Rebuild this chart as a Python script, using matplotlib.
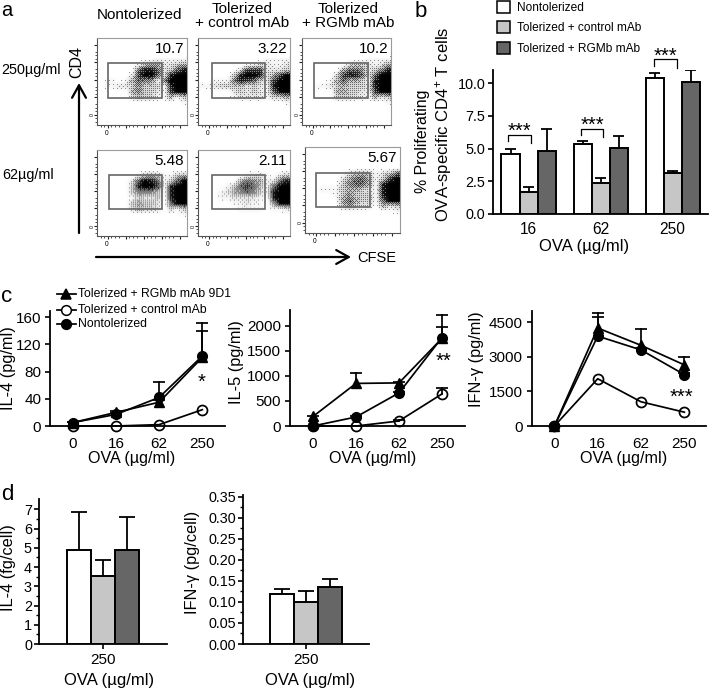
import numpy as np
import matplotlib
matplotlib.use("Agg")
import matplotlib.pyplot as plt
from matplotlib.patches import Rectangle

plt.rcParams['font.family'] = ['Liberation Sans', 'DejaVu Sans']
plt.rcParams['mathtext.fontset'] = 'custom'
plt.rcParams['mathtext.rm'] = 'Liberation Sans'
plt.rcParams['mathtext.default'] = 'regular'

W, H = 710, 689
WHITE, LIGHT, DARK = '#ffffff', '#c6c6c6', '#666666'

# ---- panel a: flow values and density read by eye (0-9), 14 columns x 10 rows
flow_values = [['10.7', '3.22', '10.2'], ['5.48', '2.11', '5.67']]
flow_cols = ['Nontolerized', 'Tolerized\n+ control mAb', 'Tolerized\n+ RGMb mAb']
flow_rows = ['250µg/ml', '62µg/ml']
flow_density = [
    [["00000000011111", "00000013442234", "00000068862368", "00000279962899", "01101465515999",
      "01122353331899", "00000453321799", "00000243311413", "00000000000001", "00000000000000"],
     ["00000000001111", "00000000122112", "00000027772223", "00000389982479", "00111587632799",
      "11233332321899", "00000232321699", "00000122221334", "00000000000001", "00000000000000"],
     ["00000000001111", "00000002332124", "00000046652358", "00000378862699", "00001464431899",
      "00112343332899", "00000443321799", "00000333221423", "00000000000001", "00000000000000"]],
    [["00000000000000", "00000013431134", "00000279861369", "00000389971899", "00000355531899",
      "00000132230899", "00000343320699", "00000243320313", "00000000000001", "00000000000000"],
     ["00000000000000", "00000001221023", "00000046541268", "00001367631699", "00012456531899",
      "00011222210899", "00000112110499", "00000011110112", "00000000000000", "00000000000000"],
     ["00000000000000", "00000023431236", "00000246641379", "00000356641899", "00111344321899",
      "00001353331899", "00000464331699", "00000353220423", "00000000000001", "00000000000000"]],
]
# panel boxes in pixels: left, right, top, bottom
flow_boxes = [[(97, 187, 38, 125), (198, 290, 38, 125), (302, 391, 38, 125)],
              [(97, 187, 150, 236), (198, 290, 150, 236), (305, 400, 147, 233)]]
flow_gates = [[(108, 162, 63, 98), (212, 265, 63, 98), (314, 368, 63, 98)],
              [(109, 162, 175, 209), (212, 265, 175, 209), (316, 370, 173, 207)]]

# ---- panel b
b_groups = ['16', '62', '250']
b_names = ['Nontolerized', 'Tolerized + control mAb', 'Tolerized + RGMb mAb']
b_nontol = [4.6, 5.35, 10.4]
b_control = [1.65, 2.4, 3.1]
b_rgmb = [4.85, 5.05, 10.1]
b_nontol_top = [4.95, 5.6, 10.75]
b_control_top = [2.05, 2.75, 3.3]
b_rgmb_top = [6.5, 5.95, 11.0]

# ---- panel c
doses = ['0', '16', '62', '250']
il4_rgmb = [5, 20, 35, 101]
il4_ctrl = [0, 0, 2, 24]
il4_non = [5, 17, 42, 103]
il4_rgmb_top = [6, 22, 38, 152]
il4_non_top = [6, 19, 65, 140]
il5_rgmb = [190, 850, 860, 1750]
il5_ctrl = [0, 0, 100, 640]
il5_non = [0, 180, 660, 1765]
il5_rgmb_top = [200, 1060, 880, 2215]
il5_ctrl_top = [0, 0, 110, 750]
il5_non_top = [0, 190, 680, 1980]
ifn_rgmb = [0, 4250, 3500, 2650]
ifn_ctrl = [0, 2050, 1050, 600]
ifn_non = [0, 3900, 3300, 2230]
ifn_rgmb_top = [0, 4920, 4210, 3010]
ifn_non_top = [0, 4730, 3400, 2300]

# ---- panel d
d_il4 = [4.88, 3.55, 4.88]
d_il4_top = [6.85, 4.35, 6.6]
d_ifn = [0.118, 0.10, 0.135]
d_ifn_top = [0.13, 0.126, 0.155]

fig = plt.figure(figsize=(W / 100, H / 100), dpi=100)
ov = fig.add_axes([0, 0, 1, 1], zorder=10)
ov.set_xlim(0, W); ov.set_ylim(H, 0); ov.axis('off'); ov.patch.set_alpha(0)


def px_axes(x0, x1, top, bottom):
    return fig.add_axes([x0 / W, 1 - bottom / H, (x1 - x0) / W, (bottom - top) / H])


def style(ax, size=11):
    for s in ('top', 'right'):
        ax.spines[s].set_visible(False)
    for s in ('left', 'bottom'):
        ax.spines[s].set_linewidth(1.3)
    ax.tick_params(length=3.8, width=1.2, labelsize=size, pad=2.5)
    ax.patch.set_alpha(0)


def xlabel(ax, text, x, y, size=12):
    ax.set_xlabel(text, fontsize=size, va='center', ha='center')
    ax.xaxis.set_label_coords(x, y, transform=ov.transData)


def ylabel(ax, text, x, y, size=12):
    ax.set_ylabel(text, fontsize=size, va='center', ha='center', rotation=90)
    ax.yaxis.set_label_coords(x, y, transform=ov.transData)


def bars(ax, xs, vals, tops, colors, width, cap):
    ax.bar(xs, vals, width, color=colors, edgecolor='black', linewidth=1.4, zorder=3)
    for x, v, t in zip(xs, vals, tops):
        ax.plot([x, x], [v, t], color='black', lw=1.3, zorder=2, solid_capstyle='butt')
        ax.plot([x - cap, x + cap], [t, t], color='black', lw=1.3, zorder=2, solid_capstyle='butt')


# ---- panel a drawing
b4 = np.array([[0, 8, 2, 10], [12, 4, 14, 6], [3, 11, 1, 9], [15, 7, 13, 5]])
b8 = np.block([[4 * b4, 4 * b4 + 2], [4 * b4 + 3, 4 * b4 + 1]])
bayer = (b8 + 0.5) / 64.0


def dotted(grid, nx, ny):
    """Upsample the hand-read density grid and turn it into dots with an ordered pattern."""
    rows, cols = grid.shape
    xc = (np.arange(cols) + 0.5) / cols
    yc = (np.arange(rows) + 0.5) / rows
    xp = (np.arange(nx) + 0.5) / nx
    yp = (np.arange(ny) + 0.5) / ny
    by_col = np.array([np.interp(yp, yc, grid[:, j]) for j in range(cols)]).T
    fine = np.array([np.interp(xp, xc, by_col[i]) for i in range(ny)]) ** 1.25
    tile = np.tile(bayer, (ny // 8 + 1, nx // 8 + 1))[:ny, :nx]
    dots = (fine > tile).astype(float)
    return 0.4 * dots + 0.6 * fine


minor_ticks = [0.04, 0.08, 0.16, 0.2, 0.24, 0.36, 0.4, 0.44, 0.56, 0.6, 0.64, 0.76, 0.8, 0.84]
flow_ticks_major = [0.12, 0.32, 0.52, 0.72, 0.92]
for r in range(2):
    for c in range(3):
        x0, x1, t, b = flow_boxes[r][c]
        ax = px_axes(x0, x1, t, b)
        grid = np.array([[int(ch) for ch in row] for row in flow_density[r][c]]) / 9.0
        h = b - t
        img = dotted(grid, int(x1 - x0), 55)
        # the density rows cover from 18 to 73 pixels below the panel top
        ax.imshow(1 - img, cmap='gray', vmin=0, vmax=1, aspect='auto',
                  extent=(0, 1, 1 - 73 / h, 1 - 18 / h), interpolation='bilinear', zorder=1)
        ax.set_xlim(0, 1); ax.set_ylim(0, 1)
        gx0, gx1, gt, gb = flow_gates[r][c]
        ax.add_patch(Rectangle(((gx0 - x0) / (x1 - x0), (b - gb) / h), (gx1 - gx0) / (x1 - x0), (gb - gt) / h,
                               fill=False, ec='#666666', lw=1.2, zorder=3))
        for s in ax.spines.values():
            s.set_color('#9a9a9a'); s.set_linewidth(0.8)
        ax.spines['left'].set_color('#555555'); ax.spines['bottom'].set_color('#555555')
        ax.set_xticks(flow_ticks_major); ax.set_yticks(flow_ticks_major)
        ax.set_xticks(minor_ticks, minor=True); ax.set_yticks(minor_ticks, minor=True)
        ax.set_xticklabels([]); ax.set_yticklabels([])
        ax.tick_params(length=2.2, width=0.8, color='#222222', direction='out', pad=1)
        ax.tick_params(which='minor', length=1.2, width=0.6, color='#333333', direction='out')
        ov.text(x1 - 3, t + 11, flow_values[r][c], fontsize=11, ha='right', va='center',
                bbox=dict(fc='white', ec='none', pad=1.5) if r == 0 else None)
        ov.text(x0 + 9.5, b + 8.5, '0', fontsize=4.8, ha='center', va='center')
        ov.text(x0 - 5, b - 10, '0', fontsize=3.8, ha='center', va='center', rotation=90)

ov.text(139, 15, flow_cols[0], fontsize=11, ha='center', va='center')
ov.text(242, 16, flow_cols[1], fontsize=11, ha='center', va='center', linespacing=1.0)
ov.text(348, 16, flow_cols[2], fontsize=11, ha='center', va='center', linespacing=1.0)
ov.text(1, 70, flow_rows[0], fontsize=10.4, ha='left', va='center')
ov.text(2, 175, flow_rows[1], fontsize=10.4, ha='left', va='center')
ov.text(77, 62, 'CD4', fontsize=11.5, rotation=90, ha='center', va='center')
ov.text(377, 258, 'CFSE', fontsize=10.5, ha='center', va='center')
head = dict(arrowstyle='->,head_length=0.9,head_width=0.5', lw=1.6, color='black', shrinkA=0, shrinkB=0)
ov.annotate('', xy=(79, 83), xytext=(79, 233), arrowprops=head)
ov.annotate('', xy=(351, 257), xytext=(96, 257), arrowprops=head)

for txt, x, y, sz in [('a', 1, 15.5, 14.5), ('b', 415, 17, 16), ('c', 1, 302.5, 16), ('d', 1, 500.5, 16)]:
    ov.text(x, y, txt, fontsize=sz, ha='left', va='baseline')

# ---- panel b drawing
ax = px_axes(492.7, 708, 70, 214)
ax.set_xlim(-0.497, 2.49); ax.set_ylim(0, 11.0)
style(ax)
gx = np.arange(len(b_groups))
bw = 0.25
bars(ax, gx - bw, b_nontol, b_nontol_top, WHITE, bw, 0.08)
bars(ax, gx, b_control, b_control_top, LIGHT, bw, 0.08)
bars(ax, gx + bw, b_rgmb, b_rgmb_top, DARK, bw, 0.08)
ax.set_yticks([0, 2.5, 5, 7.5, 10]); ax.set_yticklabels(['0.0', '2.5', '5.0', '7.5', '10.0'])
ax.set_xticks(gx); ax.set_xticklabels(b_groups)
ax.tick_params(axis='x', length=0, pad=6, labelsize=11.2)
ax.tick_params(axis='y', labelsize=10.4, pad=1.5)
xlabel(ax, 'OVA (µg/ml)', 584, 247)
ov.text(423, 141, '% Proliferating', fontsize=11.4, rotation=90, ha='center', va='center')
ov.text(443, 124, 'OVA-specific CD4$^{+}$ T cells', fontsize=12, rotation=90, ha='center', va='center')
for (xa, xb, yt, yb, sy) in [(508, 531, 135, 143, 131), (581, 603, 129, 137, 125), (654, 677, 59, 68, 56)]:
    ov.plot([xa, xa, xb, xb], [yb - 2, yt, yt, yb], color='black', lw=0.9)
    ov.text((xa + xb) / 2, sy, '***', fontsize=14.5, ha='center', va='center')
for y, col, name in zip([7, 27, 47.5], [WHITE, LIGHT, DARK], b_names):
    ov.add_patch(Rectangle((497, y - 6), 13, 12, fc=col, ec='black', lw=1.1))
    ov.text(517, y + 1, name, fontsize=8.6, ha='left', va='center')


# ---- panel c drawing
def line_panel(box, xlim, ymax, yticks, rgmb, ctrl, non, tops, xl, yl, ytxt):
    ax = px_axes(*box)
    ax.set_xlim(*xlim); ax.set_ylim(0, ymax)
    style(ax)
    xs = np.arange(len(doses))
    for vals, top in tops:
        for x, v, t in zip(xs, vals, top):
            if t > v:
                ax.plot([x, x], [v, t], color='black', lw=1.25, zorder=2, clip_on=False)
                ax.plot([x - 0.14, x + 0.14], [t, t], color='black', lw=1.25, zorder=2, clip_on=False, solid_capstyle='butt')
    ax.plot(xs, rgmb, '-^', color='black', lw=1.25, ms=7.2, zorder=3, clip_on=False)
    ax.plot(xs, ctrl, '-o', color='black', mfc='none', mew=1.25, lw=1.25, ms=7.2, zorder=3, clip_on=False)
    ax.plot(xs, non, '-o', color='black', lw=1.25, ms=7, zorder=4, clip_on=False)
    ax.set_xticks(xs); ax.set_xticklabels(doses)
    ax.set_yticks(yticks)
    ax.tick_params(axis='x', length=0, pad=8, labelsize=11)
    ax.tick_params(axis='y', labelsize=11)
    xlabel(ax, 'OVA (µg/ml)', xl[0], xl[1], 11.6)
    ylabel(ax, ytxt, yl[0], yl[1], 11.8)
    return ax


line_panel((50, 225, 310.7, 426), (-0.525, 3.525), 169.7, [0, 40, 80, 120, 160], il4_rgmb, il4_ctrl, il4_non,
           [(il4_rgmb, il4_rgmb_top), (il4_non, il4_non_top)], (131.7, 458), (9, 368), 'IL-4 (pg/ml)')
line_panel((290, 465, 310, 426), (-0.535, 3.535), 2315, [0, 500, 1000, 1500, 2000], il5_rgmb, il5_ctrl, il5_non,
           [(il5_rgmb, il5_rgmb_top), (il5_ctrl, il5_ctrl_top), (il5_non, il5_non_top)], (373, 458), (237, 362), 'IL-5 (pg/ml)')
line_panel((531.7, 706, 310.7, 426), (-0.525, 3.5), 5003, [0, 1500, 3000, 4500], ifn_rgmb, ifn_ctrl, ifn_non,
           [(ifn_rgmb, ifn_rgmb_top), (ifn_non, ifn_non_top)], (624, 458), (477, 359), 'IFN-γ (pg/ml)')
ov.text(202, 382, '*', fontsize=14.5, ha='center', va='center')
ov.text(444, 361, '**', fontsize=14.5, ha='center', va='center')
ov.text(681, 397, '***', fontsize=14.5, ha='center', va='center')

legend_rows = [('^', 'black', 'Tolerized + RGMb mAb 9D1', 294), ('o', 'white', 'Tolerized + control mAb', 309.7), ('o', 'black', 'Nontolerized', 324)]
for mk, mfc, name, y in legend_rows:
    ov.plot([57, 76], [y, y], color='black', lw=1.25)
    ov.plot([66], [y], mk, mfc=mfc, mec='black', mew=1.1, ms=7)
    ov.text(78, y, name, fontsize=8.8, ha='left', va='center')


# ---- panel d drawing
d_colors = [WHITE, LIGHT, DARK]
ax = px_axes(39.3, 166.7, 499.3, 644)
ax.set_xlim(-2.62, 2.62); ax.set_ylim(0, 7.52)
style(ax)
bars(ax, [-1, 0, 1], d_il4, d_il4_top, d_colors, 1, 0.33)
ax.set_yticks(range(8))
ax.set_yticks(np.arange(0.5, 7.5, 1), minor=True)
ax.tick_params(axis='y', which='minor', length=2.5, width=1.0)
ax.tick_params(axis='y', labelsize=10.4, pad=1.5)
ax.set_xticks([0]); ax.set_xticklabels(['250'])
ax.tick_params(axis='x', labelsize=11, length=3.5, pad=3)
xlabel(ax, 'OVA (µg/ml)', 109, 680)
ylabel(ax, 'IL-4 (fg/cell)', 9, 567.5, 11.8)

ax = px_axes(243.3, 369.3, 495, 644)
ax.set_xlim(-2.6, 2.63); ax.set_ylim(0, 0.354)
style(ax)
bars(ax, [-1, 0, 1], d_ifn, d_ifn_top, d_colors, 1, 0.33)
ax.set_yticks(np.arange(0, 0.36, 0.05)); ax.set_yticklabels(['0.00', '0.05', '0.10', '0.15', '0.20', '0.25', '0.30', '0.35'])
ax.set_yticks(np.arange(0.025, 0.35, 0.05), minor=True)
ax.tick_params(axis='y', which='minor', length=2.5, width=1.0)
ax.tick_params(axis='y', labelsize=10.4, pad=1.5)
ax.set_xticks([0]); ax.set_xticklabels(['250'])
ax.tick_params(axis='x', labelsize=11, length=3.5, pad=3)
xlabel(ax, 'OVA (µg/ml)', 310, 680)
ylabel(ax, 'IFN-γ (pg/cell)', 192, 562.5, 11.8)

fig.savefig('out.png', dpi=100)
